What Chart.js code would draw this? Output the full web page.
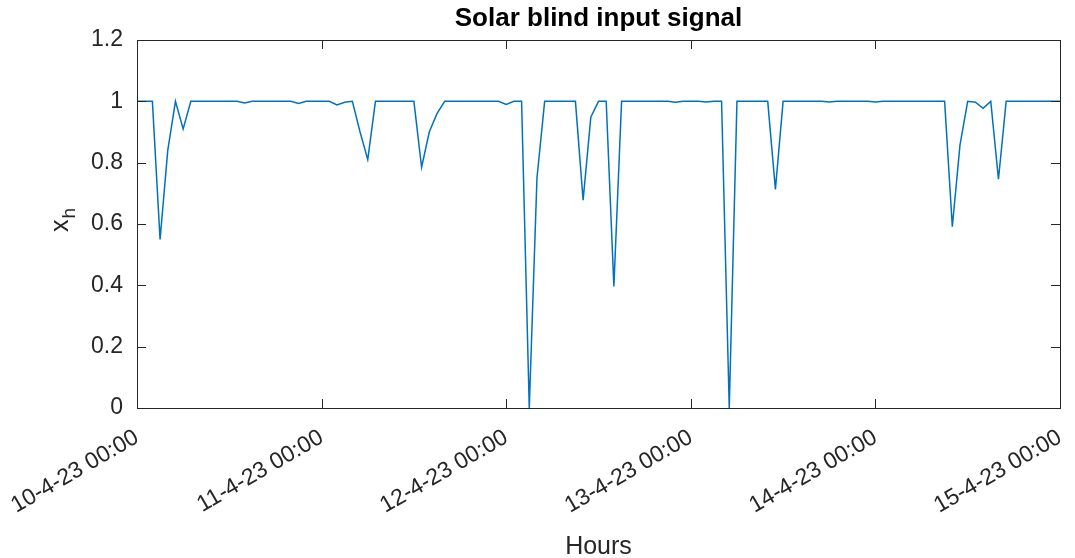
<!DOCTYPE html>
<html>
<head>
<meta charset="utf-8">
<script src="https://cdn.jsdelivr.net/npm/chart.js@4.4.1/dist/chart.umd.min.js"></script>
<style>
  html, body { margin: 0; padding: 0; background: #ffffff; }
  #wrap { width: 1075px; height: 558px; }
</style>
</head>
<body>
<div id="wrap"><canvas id="c" width="1075" height="558"></canvas></div>
<script>
// Hourly samples (hours since 10-4-23 00:00)
const hourValues = [
  1, 1, 1, 0.55, 0.84, 1, 0.91, 1, 1, 1,          // 0-9
  1, 1, 1, 1, 0.995, 1, 1, 1, 1, 1,                // 10-19
  1, 0.993, 1, 1, 1, 1, 0.988, 0.997, 1, 0.9,      // 20-29
  0.81, 1, 1, 1, 1, 1, 1, 0.785, 0.9, 0.96,        // 30-39
  1, 1, 1, 1, 1, 1, 1, 1, 0.99, 1,                 // 40-49
  1, 0, 0.75, 1, 1, 1, 1, 1, 0.678, 0.948,         // 50-59
  1, 1, 0.396, 1, 1, 1, 1, 1, 1, 1,                // 60-69
  0.997, 1, 1, 1, 0.998, 1, 1, 0, 1, 1,            // 70-79
  1, 1, 1, 0.713, 1, 1, 1, 1, 1, 1,                // 80-89
  0.998, 1, 1, 1, 1, 1, 0.998, 1, 1, 1,            // 90-99
  1, 1, 1, 1, 1, 1, 0.591, 0.858, 1, 0.997,        // 100-109
  0.977, 1, 0.746, 1, 1, 1, 1, 1, 1, 1,            // 110-119
  1                                                // 120
];
const dayTickLabels = ["10-4-23 00:00", "11-4-23 00:00", "12-4-23 00:00", "13-4-23 00:00", "14-4-23 00:00", "15-4-23 00:00"];
const yTickValues = [0, 0.2, 0.4, 0.6, 0.8, 1, 1.2];
const chartTitle = "Solar blind input signal";
const xTitle = "Hours";
const yTitleMain = "x";
const yTitleSub = "h";

const axisColor = "#262626";
const fontFam = "'Liberation Sans', Arial, 'DejaVu Sans', sans-serif";

const boxTicks = {
  id: 'boxTicks',
  afterDraw(chart) {
    const ctx = chart.ctx;
    const a = chart.chartArea;
    const xs = chart.scales.x, ys = chart.scales.y;
    const L = 9;
    ctx.save();
    ctx.strokeStyle = axisColor;
    ctx.lineWidth = 1;
    ctx.beginPath();
    xs.ticks.forEach(t => {
      const px = Math.round(xs.getPixelForValue(t.value)) + 0.5;
      ctx.moveTo(px, a.bottom); ctx.lineTo(px, a.bottom - L);
      ctx.moveTo(px, a.top); ctx.lineTo(px, a.top + L);
    });
    ys.ticks.forEach(t => {
      const py = Math.round(ys.getPixelForValue(t.value)) + 0.5;
      ctx.moveTo(a.left, py); ctx.lineTo(a.left + L, py);
      ctx.moveTo(a.right, py); ctx.lineTo(a.right - L, py);
    });
    ctx.stroke();
    ctx.strokeRect(Math.round(a.left) + 0.5, Math.round(a.top) + 0.5, Math.round(a.right - a.left), Math.round(a.bottom - a.top));

    // y-axis title: x with subscript h, rotated
    const cy = (a.top + a.bottom) / 2;
    ctx.translate(68, cy + 8);
    ctx.rotate(-Math.PI / 2);
    ctx.fillStyle = axisColor;
    ctx.textBaseline = 'alphabetic';
    ctx.textAlign = 'left';
    ctx.font = "25px " + fontFam;
    const w = ctx.measureText(yTitleMain).width;
    ctx.fillText(yTitleMain, 0, 0);
    ctx.font = "19px " + fontFam;
    ctx.fillText(yTitleSub, w + 1, 7);
    ctx.restore();
  }
};

new Chart(document.getElementById('c'), {
  type: 'line',
  data: {
    datasets: [{
      data: hourValues.map((v, i) => ({ x: i, y: v })),
      borderColor: '#0072BD',
      borderWidth: 1.5,
      pointRadius: 0,
      tension: 0,
      fill: false
    }]
  },
  options: {
    responsive: false,
    animation: false,
    devicePixelRatio: 1,
    layout: { padding: { left: 0, right: 15, top: 0, bottom: 0 } },
    plugins: {
      legend: { display: false },
      tooltip: { enabled: false },
      title: {
        display: true,
        fullSize: false,
        text: chartTitle,
        color: '#000000',
        font: { family: fontFam, size: 26, weight: 'bold', lineHeight: 1.2 },
        padding: { top: 3, bottom: 5.8 }
      }
    },
    scales: {
      x: {
        type: 'linear',
        min: 0, max: 120,
        afterFit: s => { s.height = 150; s.paddingLeft = 0; s.paddingRight = 0; },
        afterBuildTicks: s => { s.ticks = dayTickLabels.map((_, i) => ({ value: i * 24 })); },
        grid: { display: false, drawTicks: false },
        border: { display: false },
        ticks: {
          color: axisColor,
          font: { family: fontFam, size: 23 },
          minRotation: 30, maxRotation: 30,
          padding: 16,
          autoSkip: false,
          callback: v => dayTickLabels[Math.round(v / 24)]
        },
        title: {
          display: true, text: xTitle, color: axisColor,
          font: { family: fontFam, size: 25, lineHeight: 0.9 },
          padding: { top: 0, bottom: 0 }
        }
      },
      y: {
        min: 0, max: 1.2,
        afterFit: s => { s.width = 137; s.paddingTop = 0; s.paddingBottom = 0; },
        afterBuildTicks: s => { s.ticks = yTickValues.map(v => ({ value: v })); },
        grid: { display: false, drawTicks: false },
        border: { display: false },
        ticks: {
          color: axisColor,
          font: { family: fontFam, size: 23 },
          padding: 14,
          callback: v => String(+v.toFixed(1))
        },
        title: { display: false }
      }
    }
  },
  plugins: [boxTicks]
});
</script>
</body>
</html>
